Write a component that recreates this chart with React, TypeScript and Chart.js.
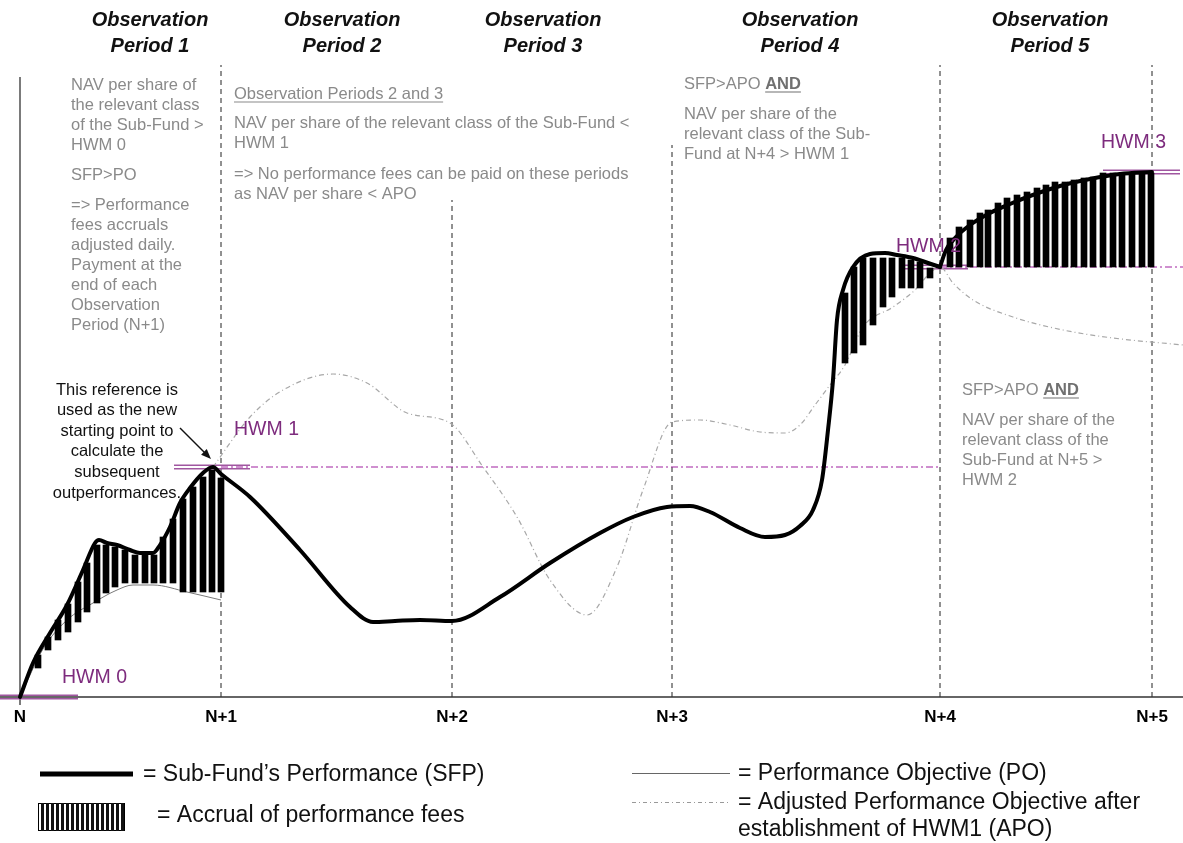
import React, { useEffect, useRef } from "react";
import { Chart, registerables } from "chart.js";

Chart.register(...registerables);

const FONT = "'Liberation Sans', Arial, Helvetica, sans-serif";

// ---------- data (x: time units from N, y: performance units) ----------
const periodX = [0, 201, 432, 652, 920, 1132];
const periodLabels = ["N", "N+1", "N+2", "N+3", "N+4", "N+5"];
const dividerTop = [620, 632, 497, 552, 632, 632];
const periodTitles = ["Period 1", "Period 2", "Period 3", "Period 4", "Period 5"];
const headerX = [130, 322, 523, 780, 1030];

const sfpX = [0, 13, 30, 47, 63, 75, 79, 87, 97, 110, 120, 133, 140, 150, 160, 170, 183, 193, 201, 230, 280, 330, 353, 375, 400, 432, 480, 530, 580, 613, 647, 670, 690, 720, 745, 765, 780, 793, 802, 808, 813, 817, 823, 833, 850, 865, 877, 893, 908, 920, 926, 935, 950, 970, 990, 1010, 1040, 1070, 1100, 1132];
const sfpY = [0, 34, 64, 92, 127, 154, 157, 154, 152, 147, 144, 144, 152, 170, 194, 209, 224, 230, 223, 200, 147, 90, 75, 76, 77, 76, 100, 134, 164, 180, 190, 191, 185, 169, 160, 162, 171, 187, 217, 267, 317, 377, 407, 430, 443, 444, 442, 439, 434, 430, 447, 459, 472, 484, 493, 501, 511, 518, 523, 525];

const poX = [0, 23, 47, 73, 97, 113, 133, 167, 201];
const poY = [0, 48, 77, 94, 107, 112, 112, 105, 97];

const apoX = [193, 230, 263, 313, 347, 387, 430, 463, 497, 530, 567, 597, 623, 652, 680, 710, 740, 765, 780, 795, 810, 825, 843, 873, 895, 910, 920, 933, 953, 993, 1043, 1093, 1163];
const apoY = [230, 280, 307, 323, 314, 284, 274, 230, 180, 117, 82, 130, 207, 275, 277, 272, 265, 264, 272, 292, 312, 332, 370, 390, 407, 424, 430, 414, 397, 380, 367, 359, 352];

const accrualX = [18, 28, 38, 48, 58, 67, 77, 86, 95, 105, 115, 125, 134, 143, 153, 163, 173, 183, 192, 201,
  825, 834, 843, 853, 863, 872, 882, 891, 900, 910,
  930, 939, 950, 960, 968, 978, 987, 997, 1007, 1017, 1026, 1035, 1045, 1054, 1064, 1073, 1083, 1093, 1102, 1112, 1122, 1131];
const accrualLow = [29, 47, 57, 65, 75, 85, 94, 104, 110, 114, 114, 114, 114, 114, 114, 105, 105, 105, 105, 105,
  334, 344, 352, 372, 390, 400, 409, 409, 409, 419,
  430, 430, 430, 430, 430, 430, 430, 430, 430, 430, 430, 430, 430, 430, 430, 430, 430, 430, 430, 430, 430, 430];
const accrualHigh = [42, 60, 77, 93, 115, 134, 152, 152, 150, 147, 142, 142, 142, 160, 178, 198, 210, 220, 227, 219,
  404, 430, 439, 439, 439, 439, 439, 437, 435, 429,
  459, 470, 477, 484, 487, 494, 499, 502, 505, 509, 512, 515, 515, 517, 519, 520, 524, 524, 524, 524, 524, 524];

const hwmNames = ["HWM 0", "HWM 1", "HWM 2", "HWM 3"];
const hwmLevel = [0, 230, 430, 525];
const hwmMarkFrom = [-20, 154, 883, 1083];
const hwmMarkTo = [58, 230, 948, 1160];

const X_MIN = -20;
const X_MAX = 1163;
const Y_MAX = 697;

// ---------- layout of notes (in chart coordinates) ----------
const GRAY = "#8a8a8a";
const PURPLE_TEXT = "#7d2b7d";
const hwmLabelPos = [[42, 19], [214, 267], [876, 450], [1081, 554]];

type Line = { t: string; y: number; u?: boolean; and?: boolean };
const noteBlocks: { x: number; color: string; center?: boolean; lines: Line[] }[] = [
  {
    x: 51, color: GRAY, lines: [
      { t: "NAV per share of", y: 612 }, { t: "the relevant class", y: 592 }, { t: "of the Sub-Fund >", y: 572 },
      { t: "HWM 0", y: 552 }, { t: "SFP>PO", y: 522 }, { t: "=> Performance", y: 492 }, { t: "fees accruals", y: 472 },
      { t: "adjusted daily.", y: 452 }, { t: "Payment at the", y: 432 }, { t: "end of each", y: 412 },
      { t: "Observation", y: 392 }, { t: "Period (N+1)", y: 372 },
    ],
  },
  {
    x: 214, color: GRAY, lines: [
      { t: "Observation Periods 2 and 3", y: 603, u: true },
      { t: "NAV per share of the relevant class of the Sub-Fund <", y: 574 },
      { t: "HWM 1", y: 554 },
      { t: "=> No performance fees can be paid on these periods", y: 523 },
      { t: "as NAV per share < APO", y: 503 },
    ],
  },
  {
    x: 664, color: GRAY, lines: [
      { t: "SFP>APO ", y: 613, and: true }, { t: "NAV per share of the", y: 583 },
      { t: "relevant class of the Sub-", y: 563 }, { t: "Fund at N+4 > HWM 1", y: 543 },
    ],
  },
  {
    x: 942, color: GRAY, lines: [
      { t: "SFP>APO ", y: 307, and: true }, { t: "NAV per share of the", y: 277 },
      { t: "relevant class of the", y: 257 }, { t: "Sub-Fund at N+5 >", y: 237 }, { t: "HWM 2", y: 217 },
    ],
  },
  {
    x: 97, color: "#111", center: true, lines: [
      { t: "This reference is", y: 307 }, { t: "used as the new", y: 287 }, { t: "starting point to", y: 266 },
      { t: "calculate the", y: 246 }, { t: "subsequent", y: 225 }, { t: "outperformances.", y: 204 },
    ],
  },
];
const arrowFrom = [160, 269];
const arrowTo = [191, 238];

const xy = (xs: number[], ys: number[]) => xs.map((x, i) => ({ x, y: ys[i] }));

const lineDs = (data: any[], color: string, width: number, dash: number[], order: number, extra: any = {}) => ({
  type: "line",
  data,
  borderColor: color,
  backgroundColor: color,
  borderWidth: width,
  borderDash: dash,
  pointRadius: 0,
  fill: false,
  tension: 0,
  order,
  clip: false,
  ...extra,
});

function buildDatasets() {
  const ds: any[] = [];
  // period dividers
  for (let i = 1; i < periodX.length; i++) {
    ds.push(lineDs([{ x: periodX[i], y: 0 }, { x: periodX[i], y: dividerTop[i] }], "#222", 1, [5, 4], 20));
  }
  // y axis
  ds.push(lineDs([{ x: periodX[0], y: -8 }, { x: periodX[0], y: dividerTop[0] }], "#222", 1.2, [], 20));
  // HWM markers (double line)
  for (let i = 0; i < hwmLevel.length; i++) {
    const d = [{ x: hwmMarkFrom[i], y: hwmLevel[i] }, { x: hwmMarkTo[i], y: hwmLevel[i] }];
    ds.push(lineDs(d, "#a056a0", 5, [], 12));
    ds.push(lineDs(d, "#ffffff", 1.8, [], 11));
  }
  // x axis
  ds.push(lineDs([{ x: X_MIN, y: 0 }, { x: X_MAX, y: 0 }], "#333", 1.5, [], 10));
  // PO
  ds.push(lineDs(xy(poX, poY), "#7a7a7a", 1, [], 9, { cubicInterpolationMode: "monotone" }));
  // APO
  ds.push(lineDs(xy(apoX, apoY), "#a8a8a8", 1.2, [5, 3, 1, 3], 9, { cubicInterpolationMode: "monotone" }));
  // HWM reference lines
  ds.push(lineDs([{ x: periodX[1], y: hwmLevel[1] }, { x: periodX[4], y: hwmLevel[1] }], "#a020a0", 1.2, [7, 3, 2, 3], 8));
  ds.push(lineDs([{ x: periodX[4], y: hwmLevel[2] }, { x: X_MAX, y: hwmLevel[2] }], "#a020a0", 1.2, [7, 3, 2, 3], 8));
  // accrual bars
  ds.push({
    type: "bar",
    data: accrualX.map((x, i) => ({ x, y: [accrualLow[i], accrualHigh[i]] })),
    backgroundColor: "#000",
    borderWidth: 0,
    barThickness: 6,
    grouped: false,
    order: 3,
  });
  // SFP, split at N+4 (corner)
  const split = sfpX.indexOf(periodX[4]);
  const sfp = xy(sfpX, sfpY);
  ds.push(lineDs(sfp.slice(0, split + 1), "#000", 4, [], 1, { cubicInterpolationMode: "monotone", borderCapStyle: "round", borderJoinStyle: "round" }));
  ds.push(lineDs(sfp.slice(split), "#000", 4, [], 1, { cubicInterpolationMode: "monotone", borderCapStyle: "round", borderJoinStyle: "round" }));
  return ds;
}

const annotationPlugin = {
  id: "annotations",
  afterDraw(chart: any) {
    const { ctx } = chart;
    const sx = chart.scales.x;
    const sy = chart.scales.y;
    const X = (v: number) => sx.getPixelForValue(v);
    const Y = (v: number) => sy.getPixelForValue(v);
    ctx.save();
    ctx.textBaseline = "middle";

    // headers
    ctx.fillStyle = "#111";
    ctx.textAlign = "center";
    ctx.font = `italic bold 20px ${FONT}`;
    headerX.forEach((hx, i) => {
      ctx.fillText("Observation", X(hx), Y(677));
      ctx.fillText(periodTitles[i], X(hx), Y(651));
    });

    // note blocks
    const size = 16.5;
    const underline = (x0: number, y0: number, w: number, color: string) => {
      ctx.strokeStyle = color;
      ctx.lineWidth = 1.2;
      ctx.setLineDash([]);
      ctx.beginPath();
      ctx.moveTo(x0, y0 + 8);
      ctx.lineTo(x0 + w, y0 + 8);
      ctx.stroke();
    };
    for (const b of noteBlocks) {
      for (const ln of b.lines) {
        ctx.font = `${size}px ${FONT}`;
        ctx.fillStyle = b.color;
        const px = X(b.x);
        const py = Y(ln.y);
        ctx.textAlign = b.center ? "center" : "left";
        ctx.fillText(ln.t, px, py);
        const w = ctx.measureText(ln.t).width;
        if (ln.u) underline(px, py, w, b.color);
        if (ln.and) {
          ctx.font = `bold ${size}px ${FONT}`;
          ctx.fillStyle = "#707070";
          ctx.fillText("AND", px + w, py);
          const w2 = ctx.measureText("AND").width;
          underline(px + w, py, w2, "#707070");
        }
      }
    }

    // arrow
    const ax0 = X(arrowFrom[0]), ay0 = Y(arrowFrom[1]);
    const ax1 = X(arrowTo[0]), ay1 = Y(arrowTo[1]);
    const ang = Math.atan2(ay1 - ay0, ax1 - ax0);
    ctx.strokeStyle = "#111";
    ctx.fillStyle = "#111";
    ctx.lineWidth = 1.5;
    ctx.beginPath();
    ctx.moveTo(ax0, ay0);
    ctx.lineTo(ax1 - 6 * Math.cos(ang), ay1 - 6 * Math.sin(ang));
    ctx.stroke();
    ctx.beginPath();
    ctx.moveTo(ax1, ay1);
    ctx.lineTo(ax1 - 10 * Math.cos(ang) + 4 * Math.sin(ang), ay1 - 10 * Math.sin(ang) - 4 * Math.cos(ang));
    ctx.lineTo(ax1 - 10 * Math.cos(ang) - 4 * Math.sin(ang), ay1 - 10 * Math.sin(ang) + 4 * Math.cos(ang));
    ctx.closePath();
    ctx.fill();

    // HWM labels
    ctx.textAlign = "left";
    ctx.fillStyle = PURPLE_TEXT;
    ctx.font = `19.5px ${FONT}`;
    hwmNames.forEach((n, i) => ctx.fillText(n, X(hwmLabelPos[i][0]), Y(hwmLabelPos[i][1])));

    // legend
    ctx.fillStyle = "#111";
    ctx.font = `23px ${FONT}`;
    ctx.strokeStyle = "#000";
    ctx.lineWidth = 5;
    ctx.beginPath();
    ctx.moveTo(40, 774);
    ctx.lineTo(133, 774);
    ctx.stroke();
    ctx.fillText("= Sub-Fund\u2019s Performance (SFP)", 143, 775);

    ctx.lineWidth = 1;
    ctx.strokeRect(38.5, 803.5, 86, 27);
    for (let s = 41; s < 122; s += 5) ctx.fillRect(s, 803, 3, 28);
    ctx.fillText("= Accrual of performance fees", 157, 816);

    ctx.strokeStyle = "#666";
    ctx.lineWidth = 1;
    ctx.beginPath();
    ctx.moveTo(632, 773.5);
    ctx.lineTo(730, 773.5);
    ctx.stroke();
    ctx.fillText("= Performance Objective (PO)", 738, 774);

    ctx.strokeStyle = "#999";
    ctx.setLineDash([4, 3, 1, 3]);
    ctx.beginPath();
    ctx.moveTo(632, 802.5);
    ctx.lineTo(730, 802.5);
    ctx.stroke();
    ctx.setLineDash([]);
    ctx.fillText("= Adjusted Performance Objective after", 738, 803);
    ctx.fillText("establishment of HWM1 (APO)", 738, 830);

    ctx.restore();
  },
};

export default function App() {
  const ref = useRef<HTMLCanvasElement>(null);
  useEffect(() => {
    const canvas = ref.current;
    if (!canvas) return;
    const chart = new Chart(canvas, {
      type: "bar",
      data: { datasets: buildDatasets() },
      options: {
        responsive: false,
        animation: false,
        events: [],
        layout: { padding: 0 },
        plugins: {
          legend: { display: false },
          tooltip: { enabled: false },
          title: { display: false },
        },
        scales: {
          x: {
            type: "linear",
            min: X_MIN,
            max: X_MAX,
            offset: false,
            grid: { display: false, drawTicks: false, offset: false },
            border: { display: false },
            afterBuildTicks: (s: any) => {
              s.ticks = periodX.map((v) => ({ value: v }));
            },
            afterFit: (s: any) => {
              s.height = 843 - Y_MAX;
            },
            ticks: {
              autoSkip: false,
              maxRotation: 0,
              padding: 10,
              color: "#000",
              font: { family: FONT, size: 17, weight: "bold" },
              callback: (v: any) => {
                const i = periodX.indexOf(Number(v));
                return i >= 0 ? periodLabels[i] : "";
              },
            },
          },
          y: { type: "linear", display: false, min: 0, max: Y_MAX },
        },
      } as any,
      plugins: [annotationPlugin],
    } as any);
    return () => chart.destroy();
  }, []);
  return (
    <div style={{ position: "fixed", left: 0, top: 0, width: 1183, height: 843, background: "#fff" }}>
      <canvas ref={ref} width={1183} height={843} style={{ display: "block", width: 1183, height: 843 }} />
    </div>
  );
}
